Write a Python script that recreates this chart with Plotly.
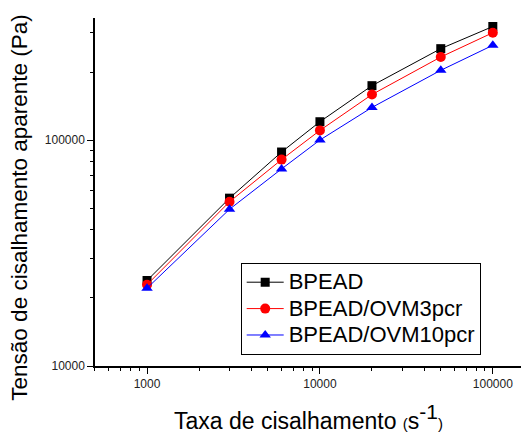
import plotly.graph_objects as go

shear_rate = [1000, 3000, 6000, 10000, 20000, 50000, 100000]
bpead = [23900, 55300, 88500, 120500, 174000, 253700, 318000]
bpead_ovm3 = [22900, 53300, 81900, 110300, 159000, 233000, 298500]
bpead_ovm10 = [22100, 49400, 74500, 100000, 139400, 203500, 262600]

series_names = ["BPEAD", "BPEAD/OVM3pcr", "BPEAD/OVM10pcr"]
x_ticks = [1000, 10000, 100000]
y_ticks = [10000, 100000]
x_minor = [m * d for d in (100, 1000, 10000, 100000) for m in range(2, 10)]
y_minor = [m * d for d in (10000, 100000) for m in range(2, 10)]

FONT = "Liberation Sans"


def legend_label(s):
    return "<span style='font-size:22px'>" + s + "</span>"


fig = go.Figure()
fig.add_trace(go.Scatter(x=shear_rate, y=bpead, name=legend_label(series_names[0]), mode="lines+markers",
                         line=dict(color="black", width=1),
                         marker=dict(symbol="square", size=9, color="black")))
fig.add_trace(go.Scatter(x=shear_rate, y=bpead_ovm3, name=legend_label(series_names[1]), mode="lines+markers",
                         line=dict(color="#ff0000", width=1),
                         marker=dict(symbol="circle", size=10, color="#ff0000")))
fig.add_trace(go.Scatter(x=shear_rate, y=bpead_ovm10, name=legend_label(series_names[2]), mode="lines+markers",
                         line=dict(color="#0000ff", width=1),
                         marker=dict(symbol="triangle-up", size=10, color="#0000ff")))

fig.update_layout(
    width=522, height=433,
    margin=dict(l=95, r=1, t=18, b=67),
    paper_bgcolor="white", plot_bgcolor="white",
    font=dict(family=FONT, color="black"),
    showlegend=True,
    legend=dict(x=0.342, y=0.296, xanchor="left", yanchor="top",
                bordercolor="black", borderwidth=1, bgcolor="white",
                font=dict(size=18, family=FONT), tracegroupgap=0,
                itemwidth=37),
)
fig.update_xaxes(type="log", range=[2.699, 5.163],
                 tickvals=x_ticks, ticktext=[str(v) for v in x_ticks],
                 ticks="outside", ticklen=6, tickwidth=1, tickcolor="black",
                 showline=True, linecolor="black", linewidth=1.5,
                 showgrid=False, zeroline=False,
                 tickfont=dict(size=12, color="#222"),
                 minor=dict(tickvals=x_minor, ticks="outside", ticklen=3, tickwidth=1,
                            tickcolor="black", showgrid=False),
                 )
fig.update_yaxes(type="log", range=[4, 5.54],
                 tickvals=y_ticks, ticktext=[str(v) for v in y_ticks],
                 ticks="outside", ticklen=6, tickwidth=1, tickcolor="black",
                 showline=True, linecolor="black", linewidth=1.5,
                 showgrid=False, zeroline=False,
                 tickfont=dict(size=12, color="#222"),
                 minor=dict(tickvals=y_minor, ticks="outside", ticklen=3, tickwidth=1,
                            tickcolor="black", showgrid=False),
                 )

fig.add_annotation(text="Taxa de cisalhamento <span style='font-size:15px'>(</span>s<sup><span style='font-size:21px'>-1</span></sup><span style='font-size:15px'>)</span>",
                   xref="paper", yref="paper", x=0.5, y=-0.147, xanchor="center", yanchor="middle",
                   showarrow=False, font=dict(size=23, family=FONT))
fig.add_annotation(text="Tensão de cisalhamento aparente (Pa)",
                   xref="paper", yref="paper", x=-0.176, y=0.455, xanchor="center", yanchor="middle",
                   textangle=-90, showarrow=False, font=dict(size=22.5, family=FONT))

fig.write_html("out.html")
